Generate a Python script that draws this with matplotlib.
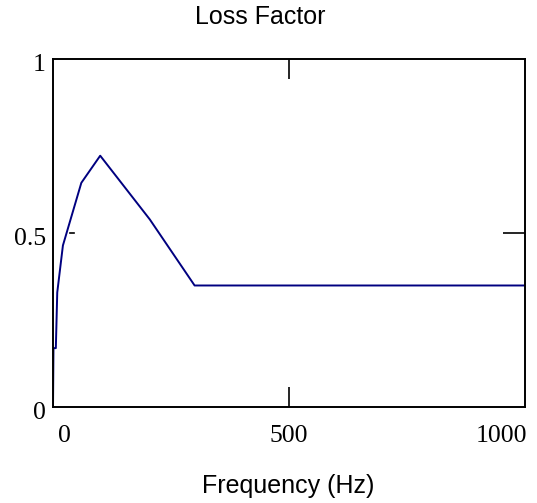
import numpy as np
from matplotlib import pyplot as plt
from matplotlib.transforms import ScaledTranslation, blended_transform_factory

freq = [0, 1, 6, 9, 21, 60, 100, 205, 300, 1000]
loss = [0, 0.17, 0.17, 0.33, 0.465, 0.645, 0.723, 0.54, 0.35, 0.35]

x_ticks = [0, 500, 1000]
x_labels = ["0", "500", "1000"]
y_ticks = [0, 0.5, 1]
y_labels = ["0", "0.5", "1"]

fig = plt.figure(figsize=(5.37, 5.03), dpi=100)
ax = fig.add_axes([0.0987, 0.1903, 0.879, 0.6918])

ax.plot(freq, loss, color="#000080", lw=1.4)
ax.set_xlim(0, 1000)
ax.set_ylim(0, 1)

for s in ax.spines.values():
    s.set_linewidth(1.4)
    s.set_color("black")

serif = "Liberation Serif"
sans = "Liberation Sans"

# ticks only in the middle, pointing inward
ax.set_xticks([500])
ax.set_yticks([0.5])
ax.tick_params(axis="x", direction="in", length=14.4, width=1.2, top=True, bottom=True,
               labelbottom=False)
ax.tick_params(axis="y", direction="in", length=15.5, width=1.2, left=False, right=True,
               labelleft=False)

# left-side dash at 0.5 (offset like the original)
tr = blended_transform_factory(ax.transAxes, ax.transData)
ax.plot([0.036, 0.044], [0.5, 0.5], color="black", lw=1.2, transform=tr, clip_on=False)

# tick labels placed by hand
for v, lab in zip(x_ticks, x_labels):
    ha = "center"
    dx = 0
    if v == 0:
        ha, dx = "left", 5
    elif v == 1000:
        ha, dx = "right", 2
    off = ScaledTranslation(dx / 100, -29 / 100, fig.dpi_scale_trans)
    ax.text(v, 0, lab, ha=ha, va="center", fontsize=18.5, family=serif,
            transform=ax.get_xaxis_transform() + off)

for v, lab in zip(y_ticks, y_labels):
    off = ScaledTranslation(-7 / 100, -6 / 100, fig.dpi_scale_trans)
    ax.text(0, v, lab, ha="right", va="center", fontsize=18.5, family=serif,
            transform=ax.get_yaxis_transform() + off)

fig.text(260 / 537, 1 - 17 / 503, "Loss Factor", ha="center", va="center",
         fontsize=18, family=sans)
fig.text(288 / 537, 1 - 486 / 503, "Frequency (Hz)", ha="center", va="center",
         fontsize=18, family=sans)

fig.savefig("out.png", dpi=100)
